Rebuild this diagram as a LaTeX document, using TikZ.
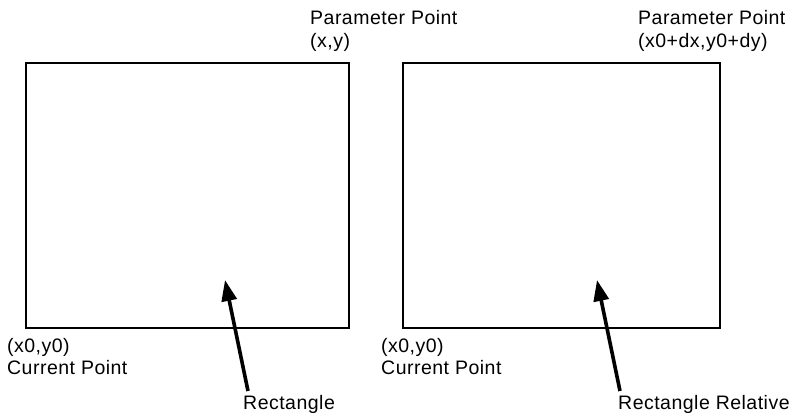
\documentclass[tikz,border=0pt]{standalone}
\usepackage{fontspec}
\setmainfont[LetterSpace=2.5]{Liberation Sans}
\usetikzlibrary{arrows.meta}
\tikzset{
  lbl/.style={anchor=base west, inner sep=0pt, font=\fontsize{19.5}{23}\selectfont},
  box/.style={draw, line width=1.6pt},
  ptr/.style={line width=3.6pt, -{Triangle[length=21pt,width=15pt]}}
}
\begin{document}
\begin{tikzpicture}[x=1pt,y=-1pt]
\useasboundingbox (0,0) rectangle (789,414);
% rectangles
\draw[box] (26,63) rectangle (349,328);
\draw[box] (403,63) rectangle (720,328);
% left labels
\node[lbl] (pp1) at (310,25) {Parameter Point};
\node[lbl] (xy1) at (310,48) {(x,y)};
\node[lbl] (c01) at (7,352) {(x0,y0)};
\node[lbl] (cp1) at (7,374) {Current Point};
\node[lbl] (r1) at (243,409) {Rectangle};
% right labels
\node[lbl] (pp2) at (638,25) {Parameter Point};
\node[lbl] (xy2) at (638,48) {(x0+dx,y0+dy)};
\node[lbl] (c02) at (381,352) {(x0,y0)};
\node[lbl] (cp2) at (381,374) {Current Point};
\node[lbl] (r2) at (618,409) {Rectangle Relative};
% arrows
\coordinate (t1) at (248,391);
\coordinate (h1) at (225,280);
\coordinate (t2) at (620,391);
\coordinate (h2) at (597,280);
\draw[ptr] (t1) -- (h1);
\draw[ptr] (t2) -- (h2);
\end{tikzpicture}
\end{document}
